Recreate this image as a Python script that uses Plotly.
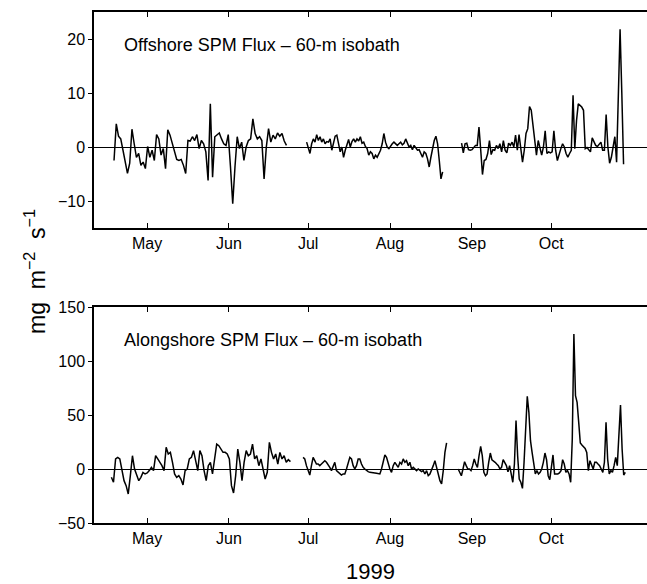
import numpy as np
import pandas as pd
import plotly.graph_objects as go

# ---------------- data ----------------
# Offshore SPM flux (mg m^-2 s^-1), three record segments
off_seg1_range = ("1999-04-18 12:00", "1999-06-22 19:00")
off_seg1 = [-2.5, 4.3, 2.0, 1.5, -0.6, -2.5, -4.9, -3.0, 3.3, 0.6, -1.9, -1.2, -3.4, -2.8,
            -4.0, 0.1, -1.9, -0.6, -2.5, 2.3, 1.5, -1.5, -0.3, -4.0, 3.2, 2.2, 0.6, -0.6,
            -2.3, -2.5, -2.3, -3.4, -4.9, 1.2, 1.1, 1.9, 1.2, 2.3, -0.3, 1.2, 0.6, -0.9,
            -6.2, 8.0, -5.6, 1.9, 2.2, 2.6, 1.5, 0.6, 0.3, 2.3, -3.7, -10.5, -3.7, 1.9,
            -0.3, 0.9, -2.5, 0.0, 1.2, 1.5, 5.2, 2.5, 1.5, 1.9, 1.2, -5.9, 0.0, 3.4, 0.9,
            2.2, 1.5, 2.6, 2.0, 2.5, 1.1, 0.3]
off_seg2_range = ("1999-06-30 10:00", "1999-08-20 22:00")
off_seg2 = [0.9, -0.3, -1.2, 0.6, 1.5, 0.9, 2.3, 1.2, 1.9, 0.9, 1.5, 0.6, 1.0, 0.9, 1.5,
            -0.6, 0.6, 2.0, 2.2, 0.3, -0.9, 0.0, -1.9, -0.6, 0.6, 1.4, 0.0, 1.0, 1.5, 0.9,
            1.5, 1.1, 1.9, 0.7, 0.9, 0.1, -0.3, -1.5, -0.9, -1.2, -2.2, -1.5, -1.9, -1.2,
            -0.6, 0.6, 2.5, 0.9, 0.0, -0.3, 0.3, 0.6, 0.9, 0.6, 0.3, 0.6, 0.9, 0.4, 0.7,
            1.5, 0.9, 0.0, 0.3, -0.5, 0.3, -0.3, -0.6, -0.5, -1.2, -1.9, -0.9, -1.2, -2.2,
            -3.7, -1.9, 0.0, 1.2, 2.0, 0.6, -2.5, -5.9, -4.6]
off_seg3_range = ("1999-08-28 02:00", "1999-10-28 10:00")
off_seg3 = [0.7, -1.1, 0.6, 0.7, -0.5, -0.6, -0.5, 0.0, 0.3, 0.3, 3.7, -0.6, -5.1, -2.5,
            -2.3, -1.2, 1.2, -1.4, -0.5, -0.6, 0.3, -0.3, 0.6, -0.9, 1.2, -0.6, -1.1, 0.7,
            0.3, 0.9, 0.0, 2.2, -0.6, 2.3, -0.6, -2.8, -0.6, 2.5, 3.4, 7.5, 6.8, 3.7, 0.6,
            -1.5, 1.2, -0.3, -1.5, 0.0, 3.0, -1.2, -0.9, -1.1, -0.9, 3.0, -0.6, -2.5, -1.2,
            -0.3, 0.6, 0.0, -1.2, -1.9, -1.2, -0.6, 9.6, -0.3, 4.9, 8.0, 7.7, 7.4, 6.8,
            -0.3, -0.1, -0.6, -0.9, 1.7, 0.9, 0.3, 0.1, 0.6, 0.9, -0.6, -0.6, 6.0, 0.0,
            -3.0, -1.9, 0.0, 1.9, -2.8, 9.9, 21.8, 9.9, -3.2]

# Alongshore SPM flux (mg m^-2 s^-1)
along_seg1_range = ("1999-04-17 12:00", "1999-06-24 07:00")
along_seg1 = [-7.7, -12.3, 9.3, 10.8, 9.3, 0.0, -10.8, -15.4, -23.1, -6.2, 12.3, 0.0, -4.6,
              -10.8, -7.7, -3.1, -4.6, -3.7, -1.5, 1.5, -1.5, 12.3, 9.3, 6.2, 3.1, -1.5,
              20.1, 13.9, 15.4, 6.2, -4.6, -7.7, -6.2, -9.3, -14.8, -1.5, 0.0, 9.3, 10.8,
              17.0, 6.2, -1.5, 17.0, 12.3, -1.5, -10.8, 3.1, 6.2, -4.6, 12.3, 23.1, 21.6,
              18.5, 15.4, 15.4, 13.9, 9.3, -15.4, -22.2, -6.2, 18.5, 6.2, -10.8, 6.2, 17.0,
              12.3, 13.9, 23.1, 9.3, 12.3, 3.1, 9.3, 0.0, -9.3, -3.1, 24.7, 15.4, 9.3,
              13.9, 4.6, 15.4, 9.3, 12.3, 6.2, 8.6, 6.8]
along_seg2_range = ("1999-06-29 02:00", "1999-08-22 10:00")
along_seg2 = [10.8, 9.3, 3.1, -2.5, -5.6, 3.1, 10.8, 7.7, 4.6, 4.6, 3.1, 4.6, 6.2, 7.7, 6.2,
              3.1, 1.5, -1.5, 3.1, 6.2, -1.5, -3.1, -4.6, -5.6, -4.6, -4.6, 0.0, 4.6, 10.8,
              9.3, 3.1, 0.0, 3.1, 9.3, 9.3, 4.6, 1.5, 0.0, -1.5, -2.5, -3.1, -3.1, -3.7,
              -3.7, -4.0, -4.0, -4.6, 0.0, 6.2, 13.0, 10.8, 4.6, 0.0, -3.1, 3.1, 6.2, 3.1,
              1.5, 6.2, 4.6, 9.3, 6.2, 7.7, 3.1, 6.2, 0.0, 1.5, 0.0, -1.5, 0.0, -1.5, -2.5,
              -1.5, -4.6, -1.5, -6.2, -4.6, -1.5, 3.1, 7.7, 0.0, -4.6, -10.8, -13.9, -1.5,
              15.4, 24.1]
along_seg3_range = ("1999-08-26 19:00", "1999-10-29 02:00")
along_seg3 = [0.0, -3.1, -6.2, 0.0, 6.8, 3.1, 0.0, 0.0, -1.5, 3.1, 9.3, 4.6, 1.5, 12.3,
              21.0, 12.3, -3.1, -6.2, -4.6, 6.2, 14.8, 8.6, 7.7, 6.2, 4.6, 3.1, 0.0, 1.5,
              8.6, 6.2, 3.1, -2.5, 3.1, -4.6, -12.3, 4.6, 44.8, 12.3, -9.3, -12.3, -17.9,
              6.2, 43.2, 67.3, 52.5, 26.2, 15.4, 3.1, -4.6, -1.5, -4.6, -3.1, 0.0, 6.2,
              14.8, 8.6, -6.2, -9.9, 3.1, 13.0, -4.6, -4.6, -4.6, -3.7, -1.5, 8.6, 4.6,
              -3.1, -1.5, -4.6, -12.3, 27.8, 125.0, 67.9, 61.7, 43.2, 24.1, 22.2, 21.0,
              19.1, 15.4, -1.5, 7.7, 3.1, 0.0, 6.2, 6.2, 4.6, 3.1, 0.0, -3.1, 6.2, 43.2,
              9.3, -4.6, -1.5, -3.1, 3.1, 10.8, 3.1, 37.0, 59.3, 18.5, -5.6, -3.1]

month_ticks = ["1999-05-01", "1999-06-01", "1999-07-01", "1999-08-01", "1999-09-01", "1999-10-01"]
month_labels = ["May", "Jun", "Jul", "Aug", "Sep", "Oct"]
x_range = ["1999-04-10 22:00", "1999-11-06 07:00"]
off_ticks = [-10, 0, 10, 20]
along_ticks = [-50, 0, 50, 100, 150]

FONT = "Liberation Sans, Arial, Helvetica, sans-serif"


def seg_x(rng, vals):
    t0 = pd.Timestamp(rng[0])
    t1 = pd.Timestamp(rng[1])
    return pd.to_datetime(np.linspace(t0.value, t1.value, len(vals)))


fig = go.Figure()
line = dict(color="black", width=1.5)
for rng, vals in [(off_seg1_range, off_seg1), (off_seg2_range, off_seg2), (off_seg3_range, off_seg3)]:
    fig.add_trace(go.Scatter(x=seg_x(rng, vals), y=vals, mode="lines", line=line,
                             xaxis="x", yaxis="y", showlegend=False))
for rng, vals in [(along_seg1_range, along_seg1), (along_seg2_range, along_seg2), (along_seg3_range, along_seg3)]:
    fig.add_trace(go.Scatter(x=seg_x(rng, vals), y=vals, mode="lines", line=line,
                             xaxis="x2", yaxis="y2", showlegend=False))

xcommon = dict(type="date", range=x_range, tickmode="array", tickvals=month_ticks,
               ticktext=month_labels, ticks="inside", ticklen=5, tickwidth=1,
               tickcolor="black", showline=True, linecolor="black", linewidth=1.5,
               mirror="ticks", showgrid=False, zeroline=False,
               tickfont=dict(family=FONT, size=16, color="black"))
ycommon = dict(ticks="outside", ticklen=4, tickwidth=1, tickcolor="black",
               showline=True, linecolor="black", linewidth=1.5, mirror=False,
               showgrid=False, zeroline=True, zerolinecolor="black", zerolinewidth=1,
               tickfont=dict(family=FONT, size=16, color="black"))

top_dom = [1 - 216 / 511, 1]
bot_dom = [0, 1 - 295 / 511]

fig.update_layout(
    width=647, height=584,
    margin=dict(l=94, r=0, t=12, b=61),
    paper_bgcolor="white", plot_bgcolor="white",
    font=dict(family=FONT, color="black"),
    xaxis=dict(xcommon, anchor="y"),
    yaxis=dict(ycommon, domain=top_dom, range=[-15, 25], tickvals=off_ticks, anchor="x"),
    xaxis2=dict(xcommon, anchor="y2"),
    yaxis2=dict(ycommon, domain=bot_dom, range=[-50, 150], tickvals=along_ticks, anchor="x2"),
    annotations=[
        dict(text="Offshore SPM Flux \u2013 60-m isobath", xref="paper", yref="paper",
             x=(122 - 94) / 553, y=(523 - 45) / 511, xanchor="left", yanchor="middle",
             showarrow=False, font=dict(family=FONT, size=18, color="black")),
        dict(text="Alongshore SPM Flux \u2013 60-m isobath", xref="paper", yref="paper",
             x=(122 - 94) / 553, y=(523 - 340) / 511, xanchor="left", yanchor="middle",
             showarrow=False, font=dict(family=FONT, size=18, color="black")),
        dict(text="1999", xref="paper", yref="paper", x=0.5, y=(523 - 571) / 511,
             xanchor="center", yanchor="middle", showarrow=False,
             font=dict(family=FONT, size=22, color="black")),
        dict(text="mg  m<sup>\u22122</sup>  s<sup>\u22121</sup>", xref="paper", yref="paper",
             x=(35 - 94) / 553, y=(523 - 272) / 511, xanchor="center", yanchor="middle",
             textangle=-90, showarrow=False, font=dict(family=FONT, size=23, color="black")),
    ],
)

fig.write_html("out.html")
